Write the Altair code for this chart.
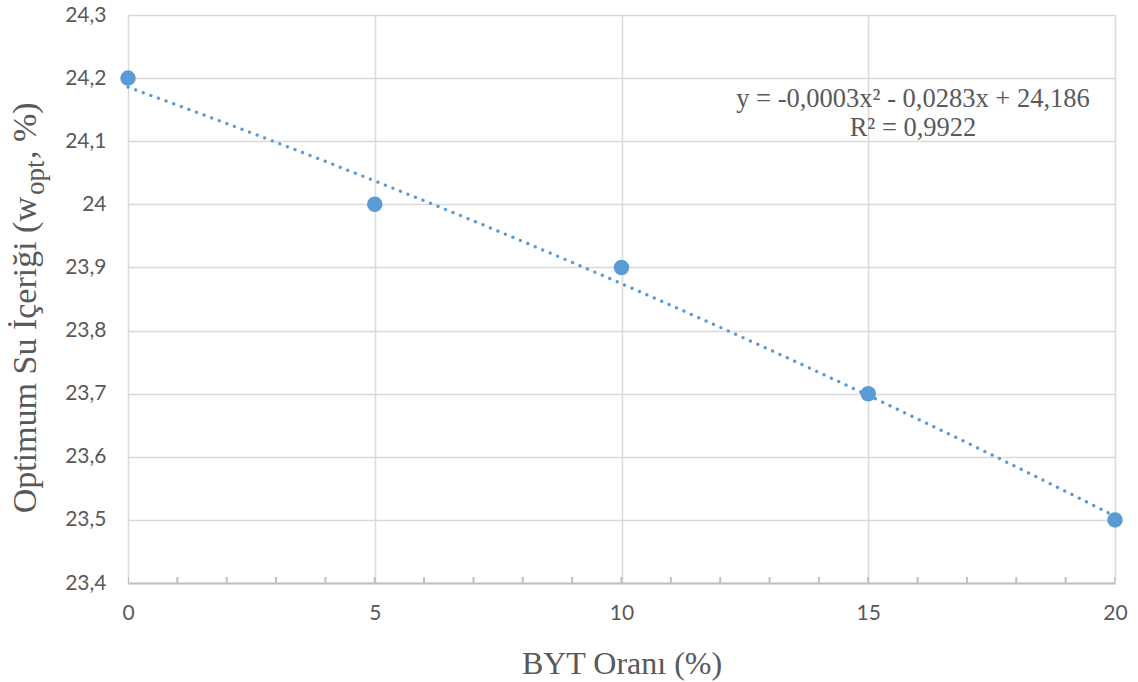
import altair as alt
import pandas as pd

# Measured optimum water content against BYT ratio
byt_ratio = [0, 5, 10, 15, 20]
w_opt = [24.2, 24.0, 23.9, 23.7, 23.5]

x_ticks = [0, 5, 10, 15, 20]
y_ticks = [23.4, 23.5, 23.6, 23.7, 23.8, 23.9, 24.0, 24.1, 24.2, 24.3]
minor_x = list(range(0, 21))

eq_line1 = "y = -0,0003x² - 0,0283x + 24,186"
eq_line2 = "R² = 0,9922"

y_title_main = "Optimum Su İçeriği (w"
y_title_sub = "opt"
y_title_end = ", %)"

df = pd.DataFrame({"x": byt_ratio, "y": w_opt})
minor_df = pd.DataFrame({"x": minor_x, "y": [y_ticks[0]] * len(minor_x)})

W, H = 987, 568
BLUE = "#5b9bd5"
GRID = "#d9d9d9"
AXIS = "#bfbfbf"
TEXT = "#595959"
SERIF = "Liberation Serif"
SANS = "Lato"

x_scale = alt.Scale(domain=[0, 20], nice=False)
y_scale = alt.Scale(domain=[23.4, 24.3], nice=False, zero=False)

x_enc = alt.X(
    "x:Q",
    scale=x_scale,
    axis=alt.Axis(
        values=x_ticks,
        title="BYT Oranı (%)",
        grid=True,
        gridColor=GRID,
        gridWidth=1.5,
        domainColor=AXIS,
        domainWidth=2,
        ticks=False,
        labelFlush=False,
        labelFont=SANS,
        labelFontSize=21,
        labelColor=TEXT,
        labelPadding=19,
        titleFont=SERIF,
        titleFontSize=32,
        titleFontWeight="normal",
        titleColor=TEXT,
        titleBaseline="alphabetic",
        titleY=90,
    ),
)
y_enc = alt.Y(
    "y:Q",
    scale=y_scale,
    axis=alt.Axis(
        values=y_ticks,
        title=None,
        grid=True,
        gridColor=GRID,
        gridWidth=1.5,
        domain=False,
        ticks=False,
        labelFlush=False,
        labelFont=SANS,
        labelFontSize=21,
        labelColor=TEXT,
        labelPadding=22,
        labelExpr="replace(format(datum.value, '.3~r'), '.', ',')",
    ),
)

# Second-order polynomial trendline fitted by Vega
trend = (
    alt.Chart(df)
    .transform_regression("x", "y", method="poly", order=2)
    .mark_line(color=BLUE, strokeWidth=3.3, strokeDash=[0.1, 8], strokeCap="round")
    .encode(x=x_enc, y=y_enc)
)

points = (
    alt.Chart(df)
    .mark_circle(color=BLUE, size=240, opacity=1)
    .encode(x=x_enc, y=y_enc)
)

# Small inward minor ticks along the x axis
minor = (
    alt.Chart(minor_df)
    .mark_tick(orient="vertical", size=12, thickness=2, color=AXIS, clip=True, opacity=1)
    .encode(x=x_enc, y=y_enc)
)

one = pd.DataFrame({"k": [0]})

eq1 = alt.Chart(one).mark_text(
    font=SERIF, fontSize=26.5, color=TEXT, align="center", baseline="alphabetic"
).encode(x=alt.value(785), y=alt.value(92), text=alt.value(eq_line1))
eq2 = alt.Chart(one).mark_text(
    font=SERIF, fontSize=26.5, color=TEXT, align="center", baseline="alphabetic"
).encode(x=alt.value(785), y=alt.value(121), text=alt.value(eq_line2))

# Rotated y-axis title with subscript
t1 = alt.Chart(one).mark_text(
    font=SERIF, fontSize=34, color=TEXT, angle=270, align="right", baseline="alphabetic"
).encode(x=alt.value(-92), y=alt.value(182), text=alt.value(y_title_main))
t2 = alt.Chart(one).mark_text(
    font=SERIF, fontSize=27, color=TEXT, angle=270, align="left", baseline="alphabetic"
).encode(x=alt.value(-84), y=alt.value(180), text=alt.value(y_title_sub))
t3 = alt.Chart(one).mark_text(
    font=SERIF, fontSize=34, color=TEXT, angle=270, align="left", baseline="alphabetic"
).encode(x=alt.value(-92), y=alt.value(144), text=alt.value(y_title_end))

chart = (
    alt.layer(trend, minor, points, eq1, eq2, t1, t2, t3)
    .properties(
        width=W,
        height=H,
        padding={"left": 128, "top": 15, "right": 23, "bottom": 99},
        autosize=alt.AutoSizeParams(type="none"),
        background="white",
    )
    .configure_view(stroke=None)
)

chart.save("out.html", embed_options={"renderer": "svg", "actions": False})
